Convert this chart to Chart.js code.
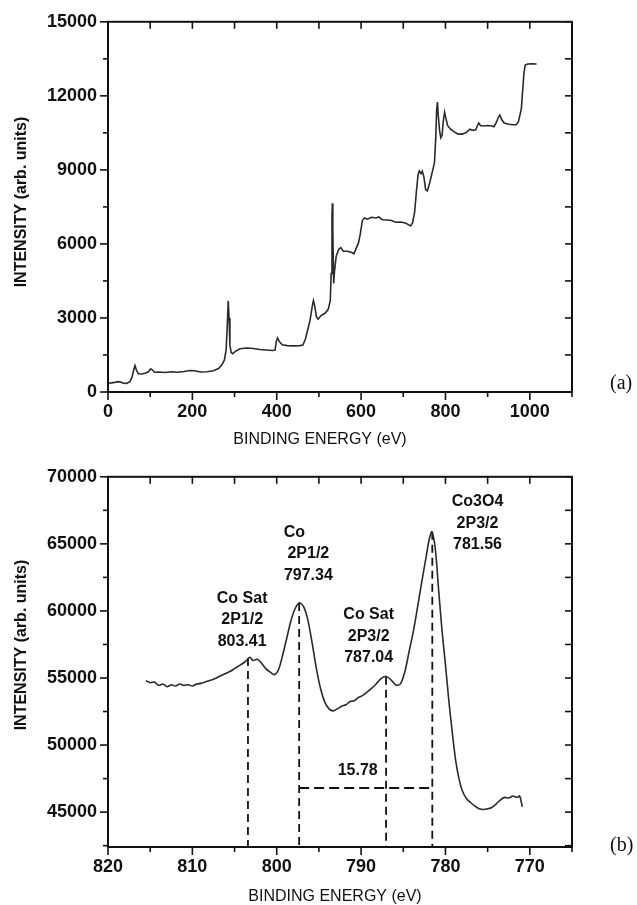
<!DOCTYPE html>
<html>
<head>
<meta charset="utf-8">
<script src="https://cdn.jsdelivr.net/npm/chart.js@4.4.1/dist/chart.umd.min.js"></script>
<style>
  body { margin: 0; background: #fff; }
  #wrap { position: relative; width: 637px; height: 905px; }
  canvas { position: absolute; left: 0; }
  .tag { position: absolute; font-family: "Liberation Serif", "Times New Roman", serif; font-size: 20px; color: #111; }
</style>
</head>
<body>
<div id="wrap">
  <canvas id="survey" width="637" height="455" style="top:0"></canvas>
  <canvas id="co2p" width="637" height="450" style="top:455px"></canvas>
  <div class="tag" style="left:610px;top:371px">(a)</div>
  <div class="tag" style="left:610px;top:833px">(b)</div>
</div>
<script>
// (a) survey spectrum
const surveyEnergy = [0, 8, 16, 24, 30, 36, 44, 52, 57, 61, 64, 67, 72, 80, 88, 96, 101, 105, 110, 120,
  135, 150, 165, 180, 195, 205, 220, 235, 250, 262, 270, 276, 280, 283, 285, 287, 289, 292, 296, 302,
  313, 330, 345, 360, 375, 390, 396, 399, 402, 406, 413, 425, 440, 455, 462, 468, 474, 479, 484, 487,
  490, 494, 498, 505, 515, 522, 527, 529, 531, 532, 533, 535, 537, 541, 547, 552, 558, 568, 578, 583,
  589, 594, 598, 603, 608, 615, 625, 635, 642, 650, 662, 672, 682, 693, 705, 712, 717, 722, 727, 731,
  735, 738, 742, 745, 749, 753, 757, 763, 770, 774, 777, 779, 781, 783, 786, 789, 792, 795, 798, 801,
  805, 812, 820, 830, 840, 850, 858, 865, 872, 876, 879, 883, 890, 900, 910, 915, 920, 926, 929, 933,
  939, 950, 960, 968, 973, 977, 980, 983, 986, 989, 995, 1005, 1016];
const surveyIntensity = [360, 370, 390, 420, 400, 360, 350, 420, 600, 900, 1070, 900, 740, 730, 760, 820, 940, 900, 800, 810,
  790, 820, 800, 830, 870, 860, 810, 820, 860, 950, 1100, 1300, 1700, 2800, 3700, 3000, 1900, 1600, 1550, 1650,
  1750, 1780, 1760, 1720, 1700, 1680, 1700, 2050, 2190, 2050, 1910, 1880, 1870, 1880, 1900, 2150, 2550, 2900, 3450, 3700,
  3500, 3050, 2950, 3100, 3200, 3350, 3700, 4800, 7200, 7650, 6500, 4400, 4900, 5500, 5780, 5850, 5700, 5700, 5650, 5600,
  5850, 6050, 6400, 6950, 7050, 7000, 7080, 7050, 7090, 6980, 6970, 6950, 6880, 6890, 6850, 6780, 6730, 6850, 7300, 8100,
  8800, 8960, 8850, 8950, 8700, 8200, 8150, 8500, 9000, 9300, 10300, 11400, 11750, 11200, 10600, 10300, 10400, 11000, 11340, 11100,
  10800, 10650, 10550, 10450, 10450, 10520, 10650, 10600, 10620, 10800, 10900, 10800, 10780, 10800, 10780, 10750, 10900, 11150, 11220, 11050,
  10900, 10850, 10830, 10830, 10950, 11250, 11500, 12200, 12900, 13250, 13290, 13300, 13290];
const surveyXTicks = [0, 200, 400, 600, 800, 1000];
const surveyYTicks = [0, 3000, 6000, 9000, 12000, 15000];

// (b) Co 2p region
const coEnergy = [815.5, 815, 814.5, 814, 813.5, 813, 812.5, 812, 811.5, 811, 810.5, 810, 809.5, 809, 808.5, 808,
  807.5, 807, 806.5, 806, 805.5, 805, 804.5, 804, 803.5, 803.2, 802.8, 802.3, 801.8, 801.3, 800.8, 800.3,
  799.8, 799.3, 798.8, 798.3, 797.8, 797.3, 796.8, 796.3, 795.8, 795.3, 794.8, 794.3, 793.8, 793.3, 792.8, 792.3,
  791.8, 791.3, 790.8, 790.3, 789.8, 789.3, 788.8, 788.3, 787.8, 787.3, 786.8, 786.3, 785.8, 785.3, 784.8, 784.3,
  783.8, 783.3, 782.8, 782.3, 781.9, 781.6, 781.2, 780.8, 780.4, 780, 779.6, 779.2, 778.8, 778.4, 778, 777.5,
  777, 776.5, 776, 775.5, 775, 774.5, 774, 773.5, 773, 772.5, 772, 771.5, 771.2, 770.9];
const coIntensity = [54800, 54650, 54700, 54450, 54550, 54350, 54500, 54400, 54550, 54450, 54500, 54400, 54550, 54600, 54700, 54800,
  54900, 55050, 55200, 55350, 55500, 55700, 55900, 56100, 56350, 56550, 56300, 56400, 56100, 55700, 55450, 55250,
  55600, 56700, 58000, 59300, 60200, 60600, 60300, 59300, 57600, 55700, 54200, 53200, 52700, 52550, 52700, 52900,
  53000, 53250, 53300, 53550, 53700, 53950, 54200, 54500, 54850, 55100, 55050, 54750, 54450, 54600, 55500, 57000,
  58500, 60300, 62200, 64000, 65400, 65900, 64600, 61500, 58500, 56000, 53300, 51000, 48900, 47500, 46600, 46000,
  45700, 45450, 45250, 45200, 45250, 45350, 45600, 45900, 46100, 46050, 46200, 46100, 46200, 45400];
const coXTicks = [820, 810, 800, 790, 780, 770];
const coYTicks = [45000, 50000, 55000, 60000, 65000, 70000];
const coYMin = 42400;

const peakEnergy = [803.41, 797.34, 787.04, 781.56];
const peakIntensity = [56500, 60600, 55100, 65900];
const peakLabels = [['Co Sat', '2P1/2', '803.41'], ['Co', '2P1/2', '797.34'], ['Co Sat', '2P3/2', '787.04'], ['Co3O4', '2P3/2', '781.56']];
const splitLevel = 46800;
const splitLabel = '15.78';

Chart.defaults.font.family = '"Liberation Sans", Arial, sans-serif';
Chart.defaults.color = '#111';

const ink = '#111';

// frame, minor/major ticks on all four sides, axis titles and text notes
const frame = {
  id: 'frame',
  afterDraw(chart, args, o) {
    const ctx = chart.ctx, a = chart.chartArea;
    const sx = chart.scales.x, sy = chart.scales.y;
    ctx.save();
    ctx.strokeStyle = ink;
    ctx.lineWidth = 2;
    ctx.strokeRect(a.left, a.top, a.right - a.left, a.bottom - a.top);
    ctx.lineWidth = 1.6;
    const seg = (x1, y1, x2, y2) => { ctx.beginPath(); ctx.moveTo(x1, y1); ctx.lineTo(x2, y2); ctx.stroke(); };
    const isMajor = (v, step) => Math.abs(v / step - Math.round(v / step)) < 1e-6;

    const x0 = Math.ceil(sx.min / o.xMinor - 1e-9) * o.xMinor;
    for (let v = x0; v <= sx.max + 1e-9; v += o.xMinor) {
      const px = sx.getPixelForValue(v);
      const len = isMajor(v, o.xMajor) ? 8 : 5;
      seg(px, a.bottom, px, a.bottom + len);
      seg(px, a.top, px, a.top + 7);
    }
    const y0 = Math.ceil(sy.min / o.yMinor - 1e-9) * o.yMinor;
    for (let v = y0; v <= sy.max + 1e-9; v += o.yMinor) {
      const py = sy.getPixelForValue(v);
      const len = isMajor(v, o.yMajor) ? 8 : 5;
      seg(a.left - len, py, a.left, py);
      seg(a.right - 7, py, a.right, py);
    }

    ctx.fillStyle = ink;
    ctx.textAlign = 'center';
    ctx.textBaseline = 'middle';
    ctx.font = '16px "Liberation Sans", Arial, sans-serif';
    ctx.fillText('BINDING ENERGY (eV)', o.xTitleX, o.xTitleY);
    ctx.save();
    ctx.translate(o.yTitleX, o.yTitleY);
    ctx.rotate(-Math.PI / 2);
    ctx.font = 'bold 16px "Liberation Sans", Arial, sans-serif';
    ctx.fillText('INTENSITY (arb. units)', 0, 0);
    ctx.restore();

    ctx.font = 'bold 16px "Liberation Sans", Arial, sans-serif';
    (o.notes || []).forEach(n => {
      const px = sx.getPixelForValue(n.x), py = sy.getPixelForValue(n.y);
      n.lines.forEach((t, i) => ctx.fillText(t, px + (n.dx && i === 0 ? n.dx : 0), py + i * 21.5));
    });
    ctx.restore();
  }
};

function axes(xMin, xMax, xTicks, yMin, yMax, yTicks, reverse, xHeight) {
  const tickFont = { size: 18, weight: 'bold' };
  const plain = v => String(v);
  return {
    x: {
      type: 'linear', min: xMin, max: xMax, reverse: reverse,
      grid: { display: false, drawTicks: false }, border: { display: false },
      afterBuildTicks: s => { s.ticks = xTicks.map(v => ({ value: v })); },
      afterFit: s => { s.height = xHeight; },
      ticks: { font: tickFont, color: ink, padding: 9, maxRotation: 0, autoSkip: false, callback: plain }
    },
    y: {
      type: 'linear', min: yMin, max: yMax,
      grid: { display: false, drawTicks: false }, border: { display: false },
      afterBuildTicks: s => { s.ticks = yTicks.map(v => ({ value: v })); },
      afterFit: s => { s.width = 108; },
      ticks: { font: tickFont, color: ink, padding: 11, callback: plain }
    }
  };
}

const pairs = (xs, ys) => xs.map((x, i) => ({ x: x, y: ys[i] }));

new Chart(document.getElementById('survey'), {
  type: 'line',
  data: {
    datasets: [{
      data: pairs(surveyEnergy, surveyIntensity),
      borderColor: '#2a2a2a', borderWidth: 1.6, pointRadius: 0, tension: 0, fill: false
    }]
  },
  options: {
    responsive: false, animation: false,
    layout: { padding: { top: 15, right: 65, left: 0, bottom: 0 } },
    scales: axes(0, 1100, surveyXTicks, 0, 15000, surveyYTicks, false, 63),
    plugins: {
      legend: { display: false }, tooltip: { enabled: false },
      frame: { xMinor: 100, xMajor: 200, yMinor: 1500, yMajor: 3000,
        xTitleX: 320, xTitleY: 440, yTitleX: 22, yTitleY: 202 }
    }
  },
  plugins: [frame]
});

const dashed = { borderColor: ink, borderWidth: 1.8, borderDash: [8, 5], pointRadius: 0, fill: false };
const peakLines = peakEnergy.map((e, i) => Object.assign({
  data: [{ x: e, y: peakIntensity[i] }, { x: e, y: coYMin }]
}, dashed));
const splitLine = Object.assign({
  data: [{ x: peakEnergy[1], y: splitLevel }, { x: peakEnergy[3], y: splitLevel }]
}, dashed, { borderDash: [10, 5] });

new Chart(document.getElementById('co2p'), {
  type: 'line',
  data: {
    datasets: [{
      data: pairs(coEnergy, coIntensity),
      borderColor: '#2a2a2a', borderWidth: 1.6, pointRadius: 0, tension: 0.3, fill: false
    }].concat(peakLines, [splitLine])
  },
  options: {
    responsive: false, animation: false,
    layout: { padding: { top: 15, right: 65, left: 0, bottom: 0 } },
    scales: axes(765, 820, coXTicks, coYMin, 70000, coYTicks, true, 58),
    plugins: {
      legend: { display: false }, tooltip: { enabled: false },
      frame: { xMinor: 5, xMajor: 10, yMinor: 2500, yMajor: 5000,
        xTitleX: 335, xTitleY: 442, yTitleX: 22, yTitleY: 190,
        notes: [
          { lines: peakLabels[0], x: 804.1, y: 60950 },
          { lines: peakLabels[1], x: 796.25, y: 65870, dx: -14 },
          { lines: peakLabels[2], x: 789.1, y: 59700 },
          { lines: peakLabels[3], x: 776.2, y: 68150 },
          { lines: [splitLabel], x: 790.4, y: 48090 }
        ] }
    }
  },
  plugins: [frame]
});
</script>
</body>
</html>
